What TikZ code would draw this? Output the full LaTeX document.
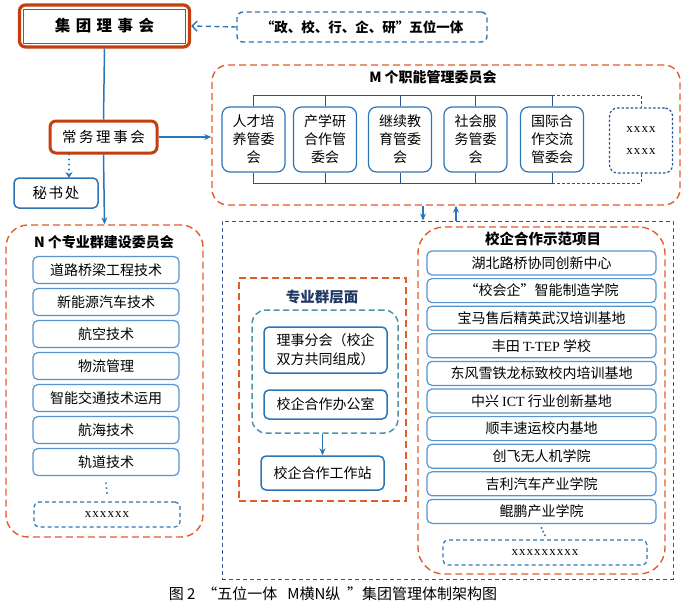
\documentclass[tikz,border=0pt]{standalone}
\usepackage{fontspec}
\setmainfont{Noto Sans CJK SC}
\newfontfamily\latin{Liberation Serif}
\usetikzlibrary{arrows.meta}
\usetikzlibrary{positioning}
\usetikzlibrary{calc}

\definecolor{boardred}{HTML}{C43E0E}
\definecolor{dashred}{HTML}{E35D2C}
\definecolor{lineblue}{HTML}{2E75B6}
\definecolor{itemblue}{HTML}{5795CF}
\definecolor{navyline}{HTML}{2F5597}
\definecolor{busblue}{HTML}{2F4F8F}
\definecolor{tealline}{HTML}{4F94A8}
\definecolor{navytext}{HTML}{1F3864}

\begin{document}
\begin{tikzpicture}[x=1pt,y=-1pt,>={Stealth[length=7pt,width=6pt]},
	node distance=32pt]
	\tikzstyle{every node}=[font=\fontsize{14}{17}\selectfont,inner sep=0pt]
	\tikzstyle{board}=[draw=boardred,line width=3.2pt,rounded corners=6pt,fill=white]
	\tikzstyle{unitbox}=[draw=lineblue,line width=1.5pt,rounded corners=5pt]
	\tikzstyle{cbox}=[draw=lineblue,line width=1.2pt,rounded corners=8pt,minimum width=63pt,minimum height=65pt,align=center,font=\fontsize{14}{18}\selectfont]
	\tikzstyle{lbox}=[draw=itemblue,line width=1.2pt,rounded corners=5pt,minimum width=146pt,minimum height=27pt]
	\tikzstyle{rbox}=[draw=itemblue,line width=1.2pt,rounded corners=5pt,minimum width=229pt,minimum height=24pt]
	\tikzstyle{xbox}=[draw=lineblue,line width=1.2pt,dash pattern=on 4pt off 3pt,rounded corners=5pt,font=\latin\fontsize{13}{14}\selectfont\addfontfeatures{LetterSpace=8}]
	\tikzstyle{redframe}=[draw=dashred,line width=1.4pt,dash pattern=on 7pt off 4pt]
	\tikzstyle{title}=[font=\bfseries\fontsize{14}{16}\selectfont]
	\tikzstyle{link}=[draw=lineblue,line width=1.5pt,->]
	\tikzstyle{bus}=[draw=busblue,line width=0.9pt]
	\tikzstyle{dotline}=[draw=lineblue,line width=2.2pt,line cap=round,dash pattern=on 0pt off 5pt]

	\useasboundingbox[fill=white] (0,0) rectangle (688,606);

	% top level
	\node[board,minimum width=170pt,minimum height=42pt,font=\bfseries\fontsize{15.5}{18}\selectfont\addfontfeatures{LetterSpace=35}] (GB) at (104.5,26) {集团理事会};
	\draw[boardred,line width=0.8pt] ($(GB.north west)+(5.5,5.5)$) rectangle ($(GB.south east)+(-5.5,-5.5)$);
	\node[draw=lineblue,line width=1.4pt,dash pattern=on 5pt off 3.5pt,rounded corners=6pt,minimum width=250pt,minimum height=30pt,font=\bfseries\fontsize{13.5}{16}\selectfont] (FV) at (362,27) {“政、校、行、企、研”五位一体};
	\draw[lineblue,line width=1.4pt,dash pattern=on 5pt off 3.5pt,-{Straight Barb[length=5pt,width=10pt]}] (FV.west) -- (GB.east);

	\node[board,minimum width=107pt,minimum height=32pt,line width=3pt,font=\fontsize{14.5}{17}\selectfont\addfontfeatures{LetterSpace=18}] (CB) at (103.5,137) {常务理事会};
	\draw[lineblue,line width=1.5pt] (GB.south) -- (CB.north);
	\node[unitbox,minimum width=84pt,minimum height=30pt,font=\fontsize{14.5}{17}\selectfont\addfontfeatures{LetterSpace=12}] (SC) at (56,193) {秘书处};
	\coordinate (SCin) at (69,178);
	\draw[dotline,-{Stealth[length=6pt,width=7pt]}] (CB.south -| SCin) -- (SCin);

	% N committees
	\node[redframe,rounded corners=22pt,minimum width=197pt,minimum height=312pt] (NB) at (104.5,381) {};
	\draw[link] (CB.south) -- (NB.north);
	\node[title] (NT) at (104,242) {N 个专业群建设委员会};
	\node[lbox] (L1) at (106,270) {道路桥梁工程技术};
	\node[lbox] (L2) [below of=L1] {新能源汽车技术};
	\node[lbox] (L3) [below of=L2] {航空技术};
	\node[lbox] (L4) [below of=L3] {物流管理};
	\node[lbox] (L5) [below of=L4] {智能交通技术运用};
	\node[lbox] (L6) [below of=L5] {航海技术};
	\node[lbox] (L7) [below of=L6] {轨道技术};
	\node[xbox,minimum width=146pt,minimum height=25pt] (LX) at (107,514.5) {xxxxxx};
	\draw[dotline] ($(L7.south)+(0,7)$) -- ($(LX.north)+(0,-8)$);

	% M committees
	\node[redframe,rounded corners=16pt,minimum width=468pt,minimum height=140pt] (MB) at (446,135) {};
	\draw[link] (CB.east) -- (CB.east -| MB.west);
	\node[title] (MT) at (433,77) {M 个职能管理委员会};
	\node[cbox] (C1) at (253.5,139.5) {人才培\\养管委\\会};
	\node[cbox] (C2) at (325,139.5) {产学研\\合作管\\委会};
	\node[cbox] (C3) at (400,139.5) {继续教\\育管委\\会};
	\node[cbox] (C4) at (475.5,139.5) {社会服\\务管委\\会};
	\node[cbox] (C5) at (552,139.5) {国际合\\作交流\\管委会};
	\node[cbox,draw=navyline,dash pattern=on 2.5pt off 2pt,font=\latin\fontsize{13}{22}\selectfont\addfontfeatures{LetterSpace=8}] (C6) at (641,140.5) {xxxx\\xxxx};
	\coordinate (busT) at (0,95);
	\coordinate (busB) at (0,183);
	\draw[bus] (C1.north) |- (C5.north |- busT) -- (C5.north);
	\draw[bus] (C1.south) |- (C5.south |- busB) -- (C5.south);
	\draw[bus] (C2.north) -- (C2.north |- busT) (C3.north) -- (C3.north |- busT) (C4.north) -- (C4.north |- busT);
	\draw[bus] (C2.south) -- (C2.south |- busB) (C3.south) -- (C3.south |- busB) (C4.south) -- (C4.south |- busB);
	\draw[bus,dash pattern=on 3pt off 2pt] (C5.north |- busT) -| (C6.north);
	\draw[bus,dash pattern=on 3pt off 2pt] (C5.south |- busB) -| (C6.south);

	% school-enterprise level
	\node[draw=navyline,line width=1pt,dash pattern=on 4pt off 3pt,minimum width=451pt,minimum height=358pt] (BR) at (447.5,400) {};
	\coordinate (dnX) at (423,0);
	\coordinate (upX) at (456,0);
	\draw[link] (MB.south -| dnX) -- (BR.north -| dnX);
	\draw[link] (BR.north -| upX) -- (MB.south -| upX);

	\node[redframe,minimum width=167pt,minimum height=223pt] (PB) at (322.5,389.5) {};
	\node[title,text=navytext,font=\bfseries\fontsize{14.5}{16}\selectfont] (PT) at (322,297) {专业群层面};
	\node[draw=tealline,line width=1.5pt,dash pattern=on 6pt off 3.5pt,rounded corners=14pt,minimum width=146pt,minimum height=123pt] (TB) at (325,371.5) {};
	\node[unitbox,minimum width=123pt,minimum height=46pt,align=left,font=\fontsize{14}{19}\selectfont] (LS) at (325.5,350) {理事分会（校企\\双方共同组成）};
	\node[unitbox,minimum width=123pt,minimum height=29pt] (OF) at (325.5,404.5) {校企合作办公室};
	\node[unitbox,minimum width=123pt,minimum height=34pt] (WS) at (322.5,473) {校企合作工作站};
	\draw[link] (TB.south -| WS.north) -- (WS.north);

	\node[redframe,rounded corners=26pt,minimum width=247pt,minimum height=347pt] (RB) at (541.5,400.5) {};
	\node[title,font=\bfseries\fontsize{14.5}{17}\selectfont] (RT) at (543,239) {校企合作示范项目};
	\begin{scope}[node distance=27.6pt]
	\node[rbox] (R1) at (541.5,263) {湖北路桥协同创新中心};
	\node[rbox] (R2) [below of=R1] {“校会企”智能制造学院};
	\node[rbox] (R3) [below of=R2] {宝马售后精英武汉培训基地};
	\node[rbox] (R4) [below of=R3] {丰田 {\latin T-TEP} 学校};
	\node[rbox] (R5) [below of=R4] {东风雪铁龙标致校内培训基地};
	\node[rbox] (R6) [below of=R5] {中兴 {\latin ICT} 行业创新基地};
	\node[rbox] (R7) [below of=R6] {顺丰速运校内基地};
	\node[rbox] (R8) [below of=R7] {创飞无人机学院};
	\node[rbox] (R9) [below of=R8] {吉利汽车产业学院};
	\node[rbox] (R10) [below of=R9] {鲲鹏产业学院};
	\end{scope}
	\node[xbox,minimum width=204pt,minimum height=25pt] (RX) at (545,552.5) {xxxxxxxxx};
	\draw[dotline,dash pattern=on 0pt off 4pt] ($(R10.south)+(0,4)$) -- ($(RX.north)+(0,-4)$);

	\node[font=\fontsize{15}{17}\selectfont] (CAP) at (333,594) {图 2 \ “五位一体\ \ \ M横N纵 \ ”集团管理体制架构图};
\end{tikzpicture}
\end{document}
